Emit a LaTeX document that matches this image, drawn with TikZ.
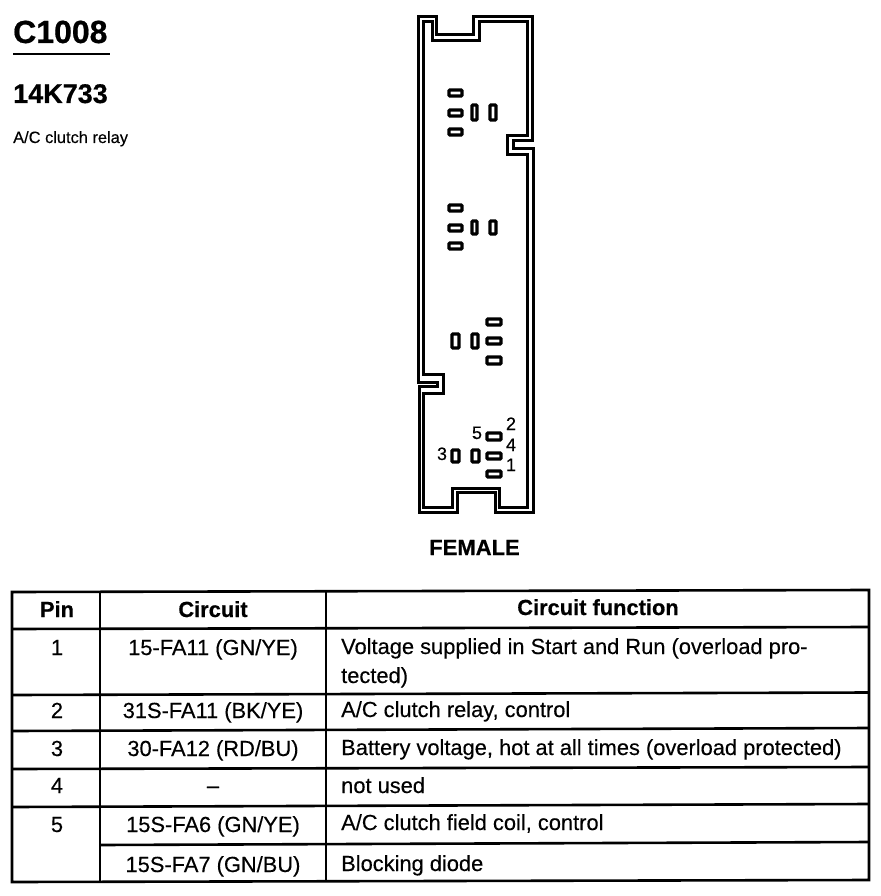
\documentclass[tikz,border=0pt]{standalone}
\usepackage{fontspec}
\setmainfont{Liberation Sans}[FakeBold=0.3, BoldFeatures={FakeBold=0.6}]
\tikzset{
    shell/.style={line width=3pt, line join=miter},
    pinbox/.style={line width=3.4pt, rounded corners=1pt},
    rule/.style={line width=2.6pt},
    cell/.style={font=\fontsize{21.85}{26}\selectfont, anchor=base},
    celltext/.style={font=\fontsize{21.85}{26}\selectfont, anchor=base west},
    headcell/.style={font=\fontsize{21.85}{26}\selectfont\bfseries, anchor=base},
    pinnum/.style={font=\fontsize{18}{21}\selectfont, anchor=base}
}
\begin{document}
\begin{tikzpicture}[x=1pt, y=-1pt]
    \useasboundingbox (0,0) rectangle (880,896);

    % Title block
    \node[font=\fontsize{32}{36}\selectfont\bfseries, anchor=base west, inner sep=0pt] (title) at (13,43) {C1008};
    \draw[line width=2.4pt] (13,54) -- (110,54);
    \node[font=\fontsize{27}{30}\selectfont\bfseries, anchor=base west, inner sep=0pt] (partno) at (13,103) {14K733};
    \node[font=\fontsize{16.4}{19}\selectfont, anchor=base west, inner sep=0pt] (partname) at (13,143) {A/C clutch relay};

    % Connector shell, outer line
    \draw[shell] (418,16.5) -- (436,16.5) -- (436,35) -- (473,35) -- (473,16.5) -- (532,16.5)
        -- (532,141) -- (513,141) -- (513,149) -- (533,149) -- (533,512) -- (495,512) -- (495,492)
        -- (457,492) -- (457,512) -- (419,512) -- (419,386) -- (437,386) -- (437,382) -- (418,382) -- cycle;

    % Connector shell, inner line
    \draw[shell] (423,21.5) -- (432,21.5) -- (432,41) -- (479,41) -- (479,21.5) -- (527,21.5)
        -- (527,136) -- (507,136) -- (507,155) -- (527,155) -- (527,507) -- (499,507) -- (499,488)
        -- (452,488) -- (452,507) -- (423,507) -- (423,393) -- (443,393) -- (443,374) -- (423,374) -- cycle;

    % Pins, first group
    \draw[pinbox] (449,90) rectangle (462,96);
    \draw[pinbox] (449,110) rectangle (462,116);
    \draw[pinbox] (449,129) rectangle (462,135);
    \draw[pinbox] (472,105) rectangle (477,120);
    \draw[pinbox] (490,105) rectangle (496,120);

    % Pins, second group
    \draw[pinbox] (449,205) rectangle (462,211);
    \draw[pinbox] (449,225) rectangle (462,231);
    \draw[pinbox] (449,243) rectangle (462,249);
    \draw[pinbox] (472,221) rectangle (477,234);
    \draw[pinbox] (490,221) rectangle (496,234);

    % Pins, third group
    \draw[pinbox] (487,319) rectangle (501,325);
    \draw[pinbox] (487,338) rectangle (501,344);
    \draw[pinbox] (487,357) rectangle (501,364);
    \draw[pinbox] (452,334) rectangle (459,348);
    \draw[pinbox] (472,334) rectangle (478,348);

    % Pins, fourth group
    \draw[pinbox] (487,433) rectangle (501,440);
    \draw[pinbox] (487,453) rectangle (501,459);
    \draw[pinbox] (487,471) rectangle (501,477);
    \draw[pinbox] (452,450) rectangle (459,462);
    \draw[pinbox] (472,450) rectangle (479,462);

    % Pin numbers
    \node[pinnum, inner sep=0pt] (numfive) at (477,439) {5};
    \node[pinnum, inner sep=0pt] (numtwo) at (511,430) {2};
    \node[pinnum, inner sep=0pt] (numfour) at (511,451) {4};
    \node[pinnum, inner sep=0pt] (numone) at (511,471) {1};
    \node[pinnum, inner sep=0pt] (numthree) at (442,460) {3};

    \node[font=\fontsize{22}{26}\selectfont\bfseries, anchor=base, inner sep=0pt] (female) at (474.5,555) {FEMALE};

    % Table frame and rules
    \draw[rule] (12,592) -- (869,590) -- (869,880) -- (12,882) -- cycle;
    \draw[rule] (100,592) -- (100,882);
    \draw[rule] (326,591) -- (326,881);
    \draw[rule] (12,629) -- (869,627);
    \draw[rule] (12,695) -- (869,692.5);
    \draw[rule] (12,731) -- (869,728);
    \draw[rule] (12,769) -- (869,767);
    \draw[rule] (12,807) -- (869,804);
    \draw[rule] (100,845) -- (869,842);

    % Table head
    \node[headcell, inner sep=0pt] (headpin) at (57,617) {Pin};
    \node[headcell, inner sep=0pt] (headcircuit) at (213,617) {Circuit};
    \node[headcell, inner sep=0pt] (headfunction) at (598,615) {Circuit function};

    % Table rows
    \node[cell, inner sep=0pt] (pinone) at (57,655) {1};
    \node[cell, inner sep=0pt] (circone) at (213,655) {15-FA11 (GN/YE)};
    \node[celltext, inner sep=0pt] (funcone) at (341,654) {Voltage supplied in Start and Run (overload pro-};
    \node[celltext, inner sep=0pt] (funconeb) at (341,683) {tected)};

    \node[cell, inner sep=0pt] (pintwo) at (57,718) {2};
    \node[cell, inner sep=0pt] (circtwo) at (213,718) {31S-FA11 (BK/YE)};
    \node[celltext, inner sep=0pt] (functwo) at (341,717) {A/C clutch relay, control};

    \node[cell, inner sep=0pt] (pinthree) at (57,756) {3};
    \node[cell, inner sep=0pt] (circthree) at (213,756) {30-FA12 (RD/BU)};
    \node[celltext, inner sep=0pt] (functhree) at (341,755) {Battery voltage, hot at all times (overload protected)};

    \node[cell, inner sep=0pt] (pinfour) at (57,793) {4};
    \node[cell, inner sep=0pt] (circfour) at (213,793) {--};
    \node[celltext, inner sep=0pt] (funcfour) at (341,793) {not used};

    \node[cell, inner sep=0pt] (pinfive) at (57,832) {5};
    \node[cell, inner sep=0pt] (circfive) at (213,832) {15S-FA6 (GN/YE)};
    \node[celltext, inner sep=0pt] (funcfive) at (341,830) {A/C clutch field coil, control};

    \node[cell, inner sep=0pt] (circsix) at (213,872) {15S-FA7 (GN/BU)};
    \node[celltext, inner sep=0pt] (funcsix) at (341,871) {Blocking diode};

\end{tikzpicture}
\end{document}
